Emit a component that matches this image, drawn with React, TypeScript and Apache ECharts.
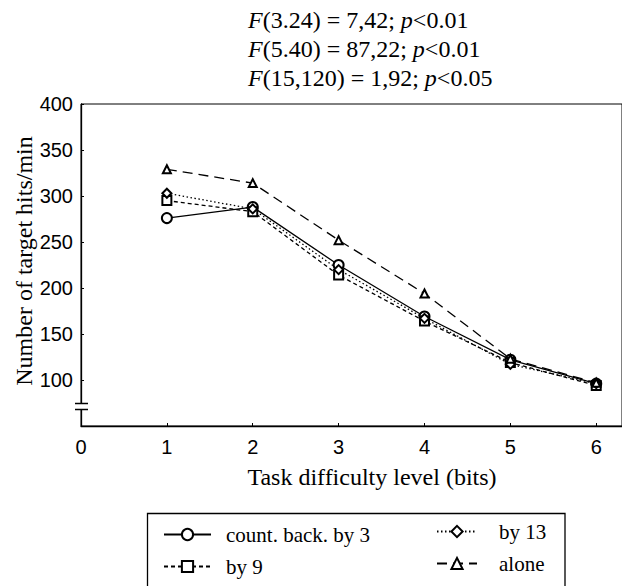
import React, { useEffect, useRef } from "react";
import * as echarts from "echarts";

const levels = [1, 2, 3, 4, 5, 6];
const countBack3 = [276, 288, 225, 169, 122, 96];
const by9 = [295, 283, 214, 164, 119, 94];
const by13 = [303, 286, 220, 167, 117, 96];
const alone = [329, 314, 252, 194, 123, 97];
const seriesNames = ["count. back. by 3", "by 9", "by 13", "alone"];
const titleLines = [
  ["F", "(3.24) = 7,42; ", "p", "<0.01"],
  ["F", "(5.40) = 87,22; ", "p", "<0.01"],
  ["F", "(15,120) = 1,92; ", "p", "<0.05"],
];
const xTitle = "Task difficulty level (bits)";
const yTitle = "Number of target hits/min";

const SERIF = "'Liberation Serif', 'Times New Roman', serif";
const SANS = "'Liberation Sans', Arial, sans-serif";

export default function App() {
  const ref = useRef<HTMLDivElement>(null);
  useEffect(() => {
    document.body.style.margin = "0";
    const chart = echarts.init(ref.current!, null, { renderer: "svg" });
    const pairs = (arr: number[]) => levels.map((x, i) => [x, arr[i]]);
    const mk = (name: string, data: number[], symbol: string, size: number, type: any) => ({
      name,
      type: "line",
      data: pairs(data),
      symbol,
      symbolSize: size,
      showAllSymbol: true,
      color: "#000",
      lineStyle: { color: "#000", width: 1.3, type },
      itemStyle: { color: "#000", borderWidth: 1.3 },
    });
    const titleText = titleLines
      .map((l) => `{i|${l[0]}}{n|${l[1]}}{i|${l[2]}}{n|${l[3]}}`)
      .join("\n");
    const legendText = { fontFamily: SERIF, fontSize: 21, color: "#000" };
    chart.setOption({
      animation: false,
      backgroundColor: "#fff",
      title: {
        text: titleText,
        left: 248,
        top: 5,
        padding: 0,
        textStyle: {
          fontFamily: SERIF,
          fontSize: 24,
          lineHeight: 29,
          fontWeight: "normal",
          color: "#000",
          rich: {
            i: { fontFamily: SERIF, fontSize: 24, lineHeight: 29, fontStyle: "italic", color: "#000" },
            n: { fontFamily: SERIF, fontSize: 24, lineHeight: 29, color: "#000" },
          },
        },
      },
      grid: {
        left: 81,
        top: 104,
        right: -3,
        bottom: 160,
        show: true,
        borderColor: "#000",
        borderWidth: 1,
        containLabel: false,
      },
      xAxis: {
        type: "value",
        min: 0,
        max: 6.3,
        interval: 1,
        splitLine: { show: false },
        axisLine: { lineStyle: { color: "#000", width: 1.3 } },
        axisTick: { inside: true, length: 3, lineStyle: { color: "#000" } },
        axisLabel: {
          color: "#000",
          fontFamily: SANS,
          fontSize: 20,
          margin: 11,
          showMaxLabel: false,
          formatter: (v: number) => (Number.isInteger(v) ? String(v) : ""),
        },
      },
      yAxis: {
        type: "value",
        min: 50,
        max: 400,
        interval: 50,
        splitLine: { show: false },
        axisLine: { lineStyle: { color: "#000", width: 1.3 } },
        axisTick: { inside: true, length: 3, lineStyle: { color: "#000" } },
        axisLabel: {
          color: "#000",
          fontFamily: SANS,
          fontSize: 20,
          margin: 8,
          formatter: (v: number) => (v === 50 ? "" : String(v)),
        },
      },
      legend: [
        {
          data: [seriesNames[0], seriesNames[1]],
          orient: "vertical",
          left: 163,
          top: 524,
          padding: 0,
          itemWidth: 47,
          itemHeight: 14,
          itemGap: 11,
          selectedMode: false,
          textStyle: { ...legendText, padding: [0, 0, 0, 10] },
        },
        {
          data: [seriesNames[2], seriesNames[3]],
          orient: "vertical",
          left: 436,
          top: 521,
          padding: 0,
          itemWidth: 40,
          itemHeight: 14,
          itemGap: 11,
          selectedMode: false,
          textStyle: { ...legendText, padding: [0, 0, 0, 17] },
        },
      ],
      graphic: [
        {
          type: "text",
          x: 24,
          y: 261,
          rotation: Math.PI / 2,
          style: {
            text: yTitle,
            fontFamily: SERIF,
            fontSize: 24,
            fill: "#000",
            align: "center",
            verticalAlign: "middle",
          },
        },
        {
          type: "text",
          x: 372,
          y: 477,
          style: {
            text: xTitle,
            fontFamily: SERIF,
            fontSize: 24,
            fill: "#000",
            align: "center",
            verticalAlign: "middle",
          },
        },
        {
          type: "rect",
          z: 100,
          shape: { x: 78, y: 404, width: 6, height: 5.5 },
          style: { fill: "#fff" },
        },
        {
          type: "line",
          z: 101,
          shape: { x1: 75, y1: 403.5, x2: 88, y2: 403.5 },
          style: { stroke: "#000", lineWidth: 1.5 },
        },
        {
          type: "line",
          z: 101,
          shape: { x1: 75, y1: 409.5, x2: 88, y2: 409.5 },
          style: { stroke: "#000", lineWidth: 1.5 },
        },
        {
          type: "rect",
          shape: { x: 147.5, y: 513.5, width: 417.5, height: 90 },
          style: { fill: "none", stroke: "#000", lineWidth: 1.3 },
        },
      ],
      series: [
        mk(seriesNames[0], countBack3, "emptyCircle", 10, "solid"),
        mk(seriesNames[1], by9, "emptyRect", 9, [4, 3]),
        mk(seriesNames[2], by13, "emptyDiamond", 9, [1.5, 2.5]),
        mk(seriesNames[3], alone, "emptyTriangle", 8, [10, 6]),
      ],
    });
    return () => chart.dispose();
  }, []);
  return (
    <div
      ref={ref}
      style={{ position: "fixed", left: 0, top: 0, width: 622, height: 586 }}
    />
  );
}
